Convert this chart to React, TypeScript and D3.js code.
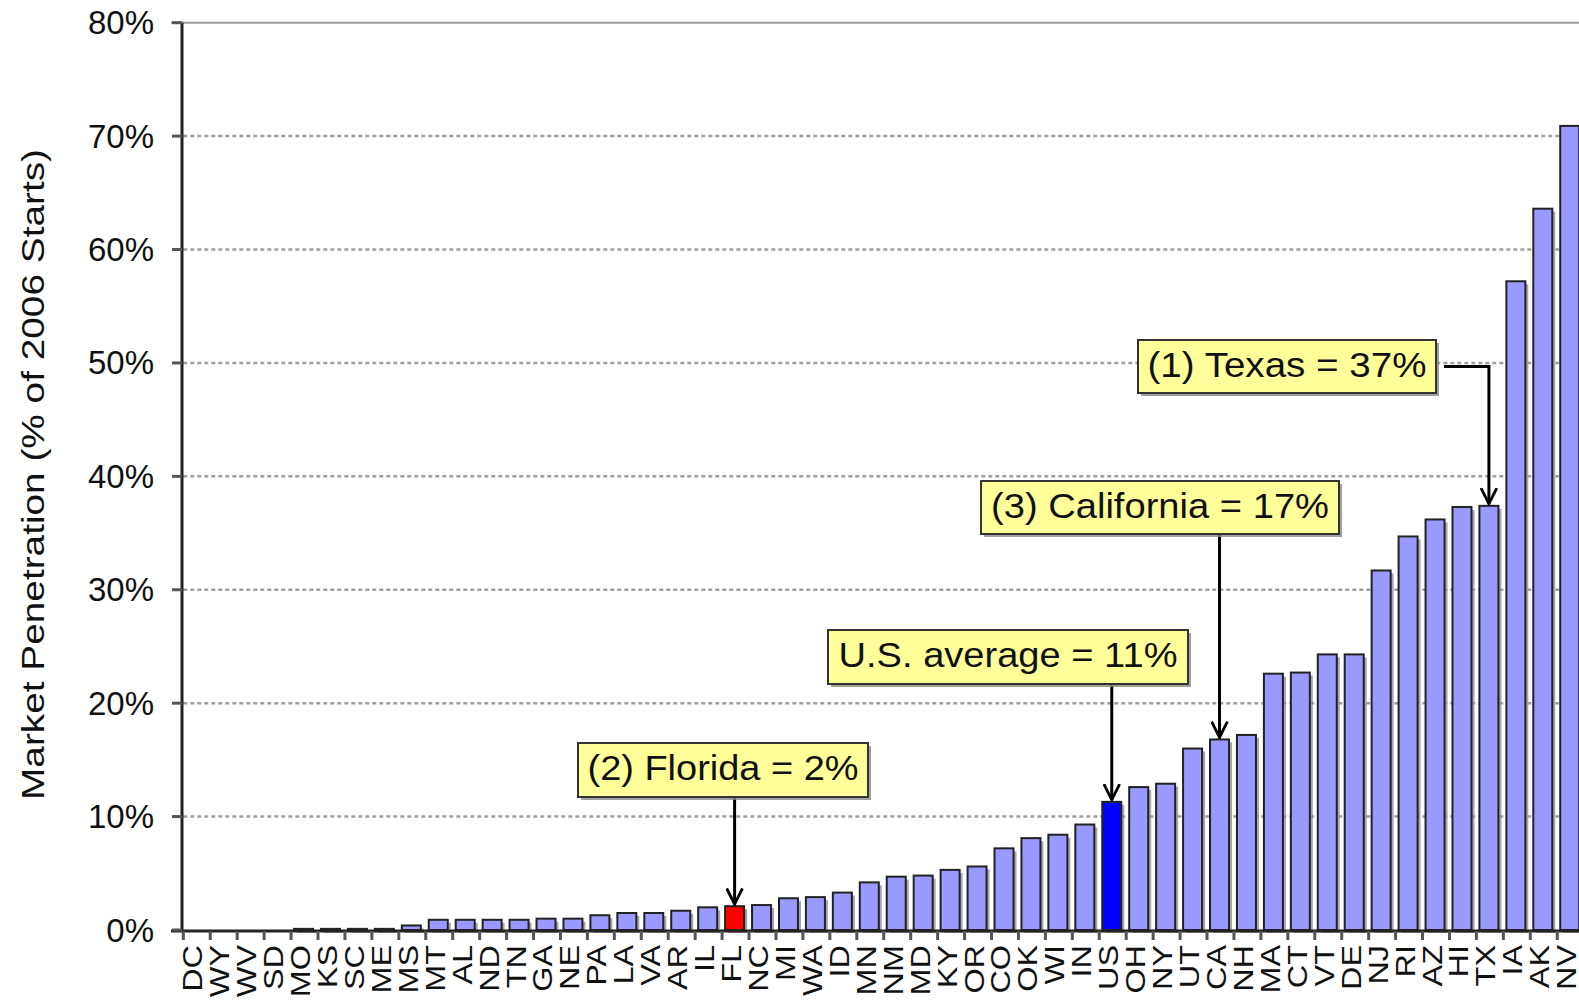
import React from 'react';
import * as d3 from 'd3';

const states = ['DC', 'WY', 'WV', 'SD', 'MO', 'KS', 'SC', 'ME', 'MS', 'MT', 'AL', 'ND', 'TN', 'GA', 'NE', 'PA', 'LA', 'VA', 'AR', 'IL', 'FL', 'NC', 'MI', 'WA', 'ID', 'MN', 'NM', 'MD', 'KY', 'OR', 'CO', 'OK', 'WI', 'IN', 'US', 'OH', 'NY', 'UT', 'CA', 'NH', 'MA', 'CT', 'VT', 'DE', 'NJ', 'RI', 'AZ', 'HI', 'TX', 'IA', 'AK', 'NV'];
const penetration = [0, 0, 0, 0, 0.1, 0.1, 0.1, 0.1, 0.4, 0.9, 0.9, 0.9, 0.9, 1.0, 1.0, 1.3, 1.5, 1.5, 1.7, 2.0, 2.1, 2.2, 2.8, 2.9, 3.3, 4.2, 4.7, 4.8, 5.3, 5.6, 7.2, 8.1, 8.4, 9.3, 11.3, 12.6, 12.9, 16.0, 16.8, 17.2, 22.6, 22.7, 24.3, 24.3, 31.7, 34.7, 36.2, 37.3, 37.4, 57.2, 63.6, 70.9];
const yTicks = [0, 10, 20, 30, 40, 50, 60, 70, 80];
const highlight: Record<string, string> = { FL: '#ff0000', US: '#0000ff' };

const callouts = [
  { state: 'TX', label: '(1) Texas = 37%', elbow: true },
  { state: 'CA', label: '(3) California = 17%', elbow: false },
  { state: 'US', label: 'U.S. average = 11%', elbow: false },
  { state: 'FL', label: '(2) Florida = 2%', elbow: false },
];
// box geometry per callout (layout only)
const boxes: Record<string, { x: number; y: number; w: number; h: number; tl: number }> = {
  TX: { x: 1138, y: 340, w: 298, h: 53, tl: 279 },
  CA: { x: 981, y: 481, w: 358, h: 53, tl: 338 },
  US: { x: 828, y: 630, w: 360, h: 54, tl: 339 },
  FL: { x: 578, y: 743, w: 290, h: 54, tl: 271 },
};

const App = () => {
  const width = 1579;
  const height = 1001;
  const font = "'Liberation Sans', Arial, sans-serif";
  const x0 = 183.3;
  const step = 26.94;

  const xScale = d3
    .scaleBand()
    .domain(states)
    .range([x0, x0 + step * states.length])
    .padding(0);
  const yScale = d3.scaleLinear().domain([0, 80]).range([930, 22.7]);
  const barW = 19;
  const barX = (s: string) => (xScale(s) as number) + 3;
  const barMid = (s: string) => barX(s) + barW / 2;
  const valueOf = (s: string) => penetration[states.indexOf(s)];

  return (
    <svg
      width={width}
      height={height}
      viewBox={`0 0 ${width} ${height}`}
      style={{ position: 'absolute', left: 0, top: 0, background: '#fff' }}
    >
      <defs>
        <marker
          id='openArrow'
          viewBox='0 -8 15 16'
          refX='14'
          refY='0'
          markerWidth='18'
          markerHeight='18'
          markerUnits='userSpaceOnUse'
          orient='auto'
        >
          <path d='M0,-7 L14,0 L0,7' fill='none' stroke='#000' strokeWidth='2.5' />
        </marker>
      </defs>

      {/* grid */}
      {yTicks.filter(t => t > 0 && t < 80).map(t => (
        <line
          key={`grid-${t}`}
          x1={x0}
          x2={width}
          y1={yScale(t)}
          y2={yScale(t)}
          stroke='#a0a0a0'
          strokeWidth='2.5'
          strokeDasharray='4 3'
        />
      ))}
      <line x1={171} x2={width} y1={yScale(80)} y2={yScale(80)} stroke='#999' strokeWidth='2' />

      {/* bars */}
      {states.map((s, i) => {
        const v = penetration[i];
        if (v === 0) return null;
        const top = yScale(v);
        const h = yScale(0) - top;
        return (
          <g key={`bar-${s}`}>
            <rect x={barX(s) + 3} y={top + 3} width={barW} height={h} fill='#8a8a8a' opacity='0.75' />
            <rect
              x={barX(s)}
              y={top}
              width={barW}
              height={h}
              fill={highlight[s] || '#9999ff'}
              stroke='#222'
              strokeWidth='2'
            />
          </g>
        );
      })}

      {/* axes */}
      <line x1={182} x2={182} y1={yScale(80)} y2={931} stroke='#222' strokeWidth='3' />
      <line x1={171} x2={width} y1={931} y2={931} stroke='#222' strokeWidth='3' />
      {yTicks.map(t => (
        <g key={`yt-${t}`}>
          <line x1={172} x2={182} y1={yScale(t)} y2={yScale(t)} stroke='#555' strokeWidth='3' />
          <text
            x={154}
            y={yScale(t)}
            textAnchor='end'
            dominantBaseline='central'
            fontFamily={font}
            fontSize='33'
            fill='#111'
          >
            {`${t}%`}
          </text>
        </g>
      ))}
      {states.map(s => (
        <line
          key={`xt-${s}`}
          x1={xScale(s)}
          x2={xScale(s)}
          y1={931}
          y2={940}
          stroke='#555'
          strokeWidth='3'
        />
      ))}
      {states.map(s => (
        <text
          key={`xl-${s}`}
          transform={`translate(${Math.min((xScale(s) as number) + xScale.bandwidth() / 2 - 4, width - 12)}, 945) rotate(-90) scale(1.2, 1)`}
          textAnchor='end'
          dominantBaseline='central'
          fontFamily={font}
          fontSize='27'
          fill='#111'
        >
          {s}
        </text>
      ))}

      <text
        transform='translate(44, 474.5) rotate(-90)'
        textAnchor='middle'
        fontFamily={font}
        fontSize='31'
        textLength='651'
        lengthAdjust='spacingAndGlyphs'
        fill='#111'
      >
        Market Penetration (% of 2006 Starts)
      </text>

      {/* callouts */}
      {callouts.map(c => {
        const b = boxes[c.state];
        const cx = barMid(c.state);
        const tipY = yScale(valueOf(c.state)) - 2;
        const path = c.elbow
          ? `M${b.x + b.w + 8},${b.y + b.h / 2} H${cx} V${tipY}`
          : `M${cx},${b.y + b.h} V${tipY}`;
        return (
          <g key={`co-${c.state}`}>
            <path d={path} fill='none' stroke='#000' strokeWidth='3' markerEnd='url(#openArrow)' />
            <rect x={b.x + 3} y={b.y + 3} width={b.w} height={b.h} fill='#888' opacity='0.8' />
            <rect x={b.x} y={b.y} width={b.w} height={b.h} fill='#ffff99' stroke='#333' strokeWidth='2' />
            <text
              x={b.x + (b.w - b.tl) / 2}
              y={b.y + 37}
              fontFamily={font}
              fontSize='35'
              textLength={b.tl}
              lengthAdjust='spacingAndGlyphs'
              fill='#111'
            >
              {c.label}
            </text>
          </g>
        );
      })}
    </svg>
  );
};

export default App;
